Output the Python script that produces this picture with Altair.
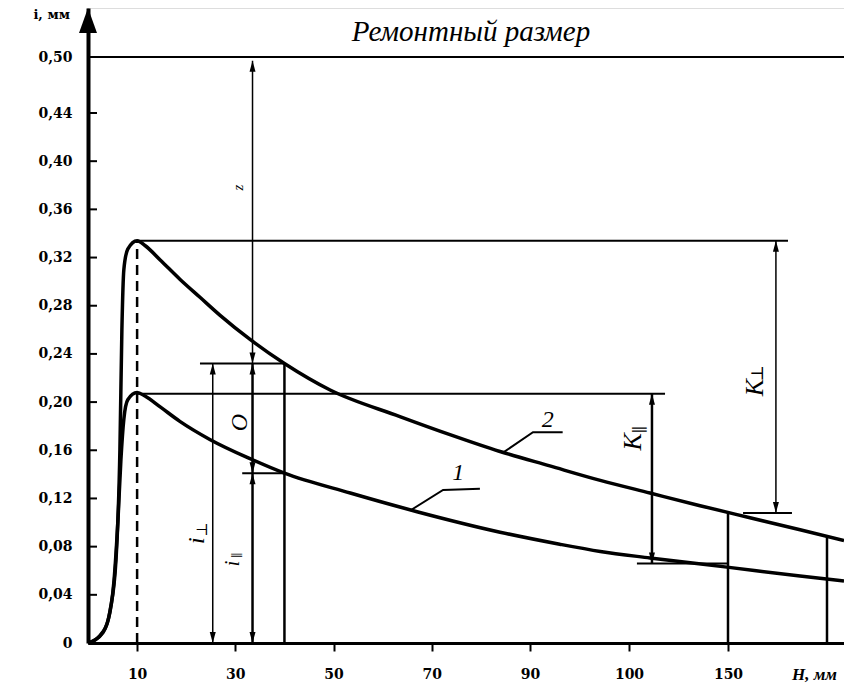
import altair as alt
import pandas as pd

# ---------------- data ----------------
x_ticks = [10, 30, 50, 70, 90, 100, 150]
y_ticks = [0, 0.04, 0.08, 0.12, 0.16, 0.20, 0.24, 0.28, 0.32, 0.36, 0.40, 0.44, 0.50]

# curve 1 (lower)
curve1_H = [0, 2.4, 4.1, 5.3, 6.1, 6.7, 7.3, 8.1, 10, 11.6, 14.7, 18.7, 24.8, 33.0, 40,
            53.4, 67.0, 83.9, 93.0, 97.1, 110.6, 149.5, 186.4, 208.6]
curve1_i = [0, 0.006, 0.019, 0.052, 0.102, 0.152, 0.186, 0.202, 0.208, 0.205, 0.196, 0.184,
            0.169, 0.153, 0.141, 0.1245, 0.109, 0.092, 0.082, 0.076, 0.0706, 0.063, 0.0556,
            0.0515]
# curve 2 (upper)
curve2_H = [0, 3.1, 4.5, 5.7, 6.5, 6.9, 7.3, 8.1, 10, 11.6, 14.7, 18.7, 22.8, 26.9, 33.0, 40,
            49.3, 63.5, 73.7, 83.9, 92.0, 97.1, 110.6, 135.9, 161.1, 186.4, 208.6]
curve2_i = [0, 0.009, 0.027, 0.069, 0.161, 0.260, 0.310, 0.327, 0.334, 0.330, 0.318, 0.302,
            0.287, 0.272, 0.252, 0.232, 0.210, 0.188, 0.173, 0.159, 0.147, 0.135, 0.1245, 0.114,
            0.104, 0.094, 0.085]

repair_level = 0.50
H_end = 208.6
peak_H = 10
peak1 = 0.207
peak2 = 0.334
H_meas = 40
i_perp = 0.232
i_par = 0.141
H_iperp = 25.4
H_ipar = 33.5
H_Kpar = 111.6
Kpar_low = 0.066
H_Kperp = 174.2
Kperp_low = 0.108
H_150 = 150
H_200 = 200
c2_at_150 = 0.109
c2_at_200 = 0.088

leader2_H = [84.5, 90.3, 93.3]
leader2_i = [0.158, 0.175, 0.175]
leader1_H = [65.6, 72.3, 79.8]
leader1_i = [0.110, 0.127, 0.128]

# ---------------- scales & axes ----------------
xs = alt.Scale(domain=[0, 90, 100, 150, 200, H_end], range=[0, 442, 541, 640, 739, 756],
               nice=False, zero=False)
ys = alt.Scale(domain=[0, 0.44, 0.50, 0.551], range=[635, 105, 49, 0], nice=False, zero=False)

xaxis = alt.Axis(values=x_ticks, title=None, grid=False, domainColor="black", domainWidth=3,
                 tickColor="black", tickWidth=2, tickSize=8, labelPadding=16,
                 labelFont="DejaVu Serif", labelFontWeight="bold", labelFontSize=14,
                 labelColor="black", labelFlush=False, labelOverlap=False)
yaxis = alt.Axis(values=y_ticks, title=None, grid=False, domainColor="black", domainWidth=4,
                 ticks=False, labelPadding=16,
                 labelExpr="datum.value == 0 ? '0' : replace(format(datum.value, '.2f'), '.', ',')",
                 labelFont="DejaVu Serif", labelFontWeight="bold", labelFontSize=14,
                 labelColor="black", labelOverlap=False)


def X(f):
    return alt.X(f, type="quantitative", scale=xs, axis=xaxis)


def Y(f):
    return alt.Y(f, type="quantitative", scale=ys, axis=yaxis)


curves = pd.concat([
    pd.DataFrame({"H": curve1_H, "i": curve1_i, "c": "1", "o": range(len(curve1_H))}),
    pd.DataFrame({"H": curve2_H, "i": curve2_i, "c": "2", "o": range(len(curve2_H))}),
])
leaders = pd.concat([
    pd.DataFrame({"H": leader1_H, "i": leader1_i, "c": "1", "o": range(3)}),
    pd.DataFrame({"H": leader2_H, "i": leader2_i, "c": "2", "o": range(3)}),
])

thin_h = pd.DataFrame({
    "H": [0, peak_H, peak_H, 22.8, 31.4, 104, 157.6],
    "H2": [H_end, 180.3, 118.2, H_meas, H_meas, H_150, 182.3],
    "i": [repair_level, peak2, peak1, i_perp, i_par, Kpar_low, Kperp_low],
})
thin_v = pd.DataFrame({
    "H": [H_ipar, H_iperp, H_Kperp],
    "i": [i_perp, 0, Kperp_low],
    "i2": [repair_level - 0.004, i_perp, peak2],
})
thick_v = pd.DataFrame({
    "H": [H_ipar, H_ipar, H_meas, H_Kpar, H_150, H_200],
    "i": [i_par, 0, 0, Kpar_low, 0, 0],
    "i2": [i_perp, i_par, i_perp, peak1, c2_at_150, c2_at_200],
})
arrows_up = pd.DataFrame({
    "H": [H_ipar, H_ipar, H_ipar, H_iperp, H_Kpar, H_Kperp],
    "i": [repair_level - 0.004, i_perp, i_par, i_perp, peak1, peak2],
})
arrows_down = pd.DataFrame({
    "H": [H_ipar, H_ipar, H_ipar, H_iperp, H_Kpar, H_Kperp],
    "i": [i_perp, i_par, 0, 0, Kpar_low, Kperp_low],
})
dashed = pd.DataFrame({"H": [peak_H], "i": [0], "i2": [peak2]})

# rotated dimension letters and their subscripts
labels_rot = pd.DataFrame({
    "H": [30.5, 31.0, 22.2, 29.5, 102.0, 163.6],
    "i": [0.378, 0.183, 0.085, 0.066, 0.167, 0.212],
    "t": ["z", "O", "i", "i", "K", "K"],
    "s": [15, 24, 24, 20, 26, 26],
})
labels_sub = pd.DataFrame({
    "H": [23.2, 30.3, 105.4, 165.4],
    "i": [0.094, 0.073, 0.177, 0.224],
    "t": ["⊥", "∥", "∥", "⊥"],
    "s": [15, 12, 16, 17],
})
labels_num = pd.DataFrame({"H": [75.4, 91.8], "i": [0.141, 0.185], "t": ["1", "2"]})

yt = pd.DataFrame({"i": y_ticks[1:]})
arrow_top = pd.DataFrame({"H": [0], "i": [0.551]})

UP = "M0,0L-0.6,2.2L0.6,2.2Z"
DOWN = "M0,0L-0.6,-2.2L0.6,-2.2Z"

base_curves = alt.Chart(curves).mark_line(color="black", strokeWidth=3.5,
                                          interpolate="monotone").encode(
    x=X("H"), y=Y("i"), detail="c:N", order="o:Q")
lead = alt.Chart(leaders).mark_line(color="black", strokeWidth=2).encode(
    x=X("H"), y=Y("i"), detail="c:N", order="o:Q")
hl = alt.Chart(thin_h).mark_rule(color="black", strokeWidth=2).encode(
    x=X("H"), x2="H2:Q", y=Y("i"))
vl_thin = alt.Chart(thin_v).mark_rule(color="black", strokeWidth=1.5).encode(
    x=X("H"), y=Y("i"), y2="i2:Q")
vl_thick = alt.Chart(thick_v).mark_rule(color="black", strokeWidth=2.5).encode(
    x=X("H"), y=Y("i"), y2="i2:Q")
dash = alt.Chart(dashed).mark_rule(color="black", strokeWidth=2.5, strokeDash=[10, 6]).encode(
    x=X("H"), y=Y("i"), y2="i2:Q")
aup = alt.Chart(arrows_up).mark_point(shape=UP, size=100, filled=True, color="black",
                                      opacity=1).encode(x=X("H"), y=Y("i"))
adn = alt.Chart(arrows_down).mark_point(shape=DOWN, size=100, filled=True, color="black",
                                        opacity=1).encode(x=X("H"), y=Y("i"))
rot = alt.Chart(labels_rot).mark_text(angle=270, font="Liberation Serif", fontStyle="italic",
                                      color="black").encode(
    x=X("H"), y=Y("i"), text="t:N", size=alt.Size("s:Q", scale=None, legend=None))
sub = alt.Chart(labels_sub).mark_text(angle=270, font="DejaVu Serif", color="black").encode(
    x=X("H"), y=Y("i"), text="t:N", size=alt.Size("s:Q", scale=None, legend=None))
num = alt.Chart(labels_num).mark_text(font="Liberation Serif", fontStyle="italic", fontSize=24,
                                      color="black").encode(x=X("H"), y=Y("i"), text="t:N")
yticks = alt.Chart(yt).mark_rule(color="black", strokeWidth=2).encode(
    x=alt.value(0), x2=alt.value(9), y=Y("i"))
ytop = alt.Chart(arrow_top).mark_point(shape="M0,0L-1.8,5L1.8,5Z", size=100, filled=True,
                                       color="black", opacity=1).encode(x=X("H"), y=Y("i"))

txt = pd.DataFrame({"t": ["Ремонтный размер"]})
title = alt.Chart(txt).mark_text(font="Liberation Serif", fontStyle="italic", fontSize=29,
                                 color="black", align="center", baseline="middle").encode(
    x=alt.value(383), y=alt.value(24), text="t:N")
ylab = alt.Chart(pd.DataFrame({"t": ["i,  мм"]})).mark_text(
    font="DejaVu Serif", fontWeight="bold", fontSize=13, color="black", align="right",
    baseline="middle").encode(x=alt.value(-18), y=alt.value(7), text="t:N")
xlab = alt.Chart(pd.DataFrame({"t": ["H, мм"]})).mark_text(
    font="Liberation Serif", fontStyle="italic", fontWeight="bold", fontSize=17, color="black",
    align="left", baseline="middle").encode(x=alt.value(704), y=alt.value(667), text="t:N")

chart = alt.layer(
    base_curves, lead, hl, vl_thin, vl_thick, dash, aup, adn, rot, sub, num, yticks, ytop,
    title, ylab, xlab
).properties(
    width=756, height=635,
    padding={"left": 80, "top": 0, "right": 0, "bottom": 48},
    autosize=alt.AutoSizeParams(type="none"),
).configure_view(stroke=None).configure(background="white")

chart.save("out.html", embed_options={"renderer": "svg", "actions": False})
